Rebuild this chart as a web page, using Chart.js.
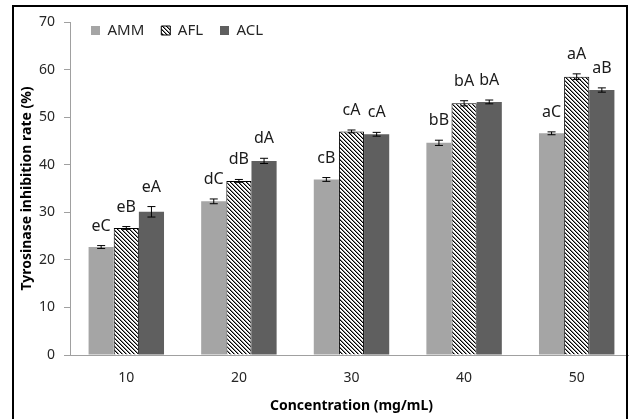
<!DOCTYPE html>
<html>
<head>
<meta charset="utf-8">
<script src="https://cdn.jsdelivr.net/npm/chart.js@4"></script>
<style>
  body { margin: 0; background: #fff; }
  #wrap { position: relative; width: 629px; height: 419px; overflow: hidden; background: #fff; }
  #frame { position: absolute; left: 12px; top: 5px; width: 612px; height: 430px; border: 2px solid #000; pointer-events: none; }
  canvas { position: absolute; left: 0; top: 0; }
</style>
</head>
<body>
<div id="wrap">
  <canvas id="tyrChart" width="640" height="419"></canvas>
  <div id="frame"></div>
</div>
<script>
// Datos
const categories = ['10', '20', '30', '40', '50'];
const seriesNames = ['AMM', 'AFL', 'ACL'];

const ammValues = [22.7, 32.3, 36.9, 44.6, 46.6];
const aflValues = [26.7, 36.6, 47.0, 52.9, 58.5];
const aclValues = [30.1, 40.8, 46.4, 53.2, 55.7];

// Desviaciones (barras de error)
const ammErrors = [0.3, 0.5, 0.4, 0.55, 0.3];
const aflErrors = [0.3, 0.3, 0.3, 0.55, 0.6];
const aclErrors = [1.1, 0.55, 0.4, 0.4, 0.45];

// Letras de significancia
const ammLetters = ['eC', 'dC', 'cB', 'bB', 'aC'];
const aflLetters = ['eB', 'dB', 'cA', 'bA', 'aA'];
const aclLetters = ['eA', 'dA', 'cA', 'bA', 'aB'];

const yTicks = [0, 10, 20, 30, 40, 50, 60, 70];

const FONT = "'Noto Sans', 'DejaVu Sans', sans-serif";

// Patron rayado para AFL
function makeHatch() {
    const c = document.createElement('canvas');
    c.width = 4;
    c.height = 4;
    const g = c.getContext('2d');
    g.fillStyle = '#ffffff';
    g.fillRect(0, 0, 4, 4);
    for (let i = 0; i < 4; i++) {
        g.fillStyle = '#000000';
        g.fillRect(i, i, 1, 1);
        g.fillStyle = '#8a8a8a';
        g.fillRect((i + 1) % 4, i, 1, 1);
    }
    return g.createPattern(c, 'repeat');
}

const errorSets = [ammErrors, aflErrors, aclErrors];
const letterSets = [ammLetters, aflLetters, aclLetters];

// Barras de error y letras encima de cada barra
const errorBarsPlugin = {
    id: 'errorBars',
    afterDatasetsDraw(chart) {
        const ctx = chart.ctx;
        const y = chart.scales.y;
        ctx.save();
        chart.data.datasets.forEach((ds, i) => {
            const meta = chart.getDatasetMeta(i);
            meta.data.forEach((bar, j) => {
                const v = ds.data[j];
                const e = errorSets[i][j];
                const yTop = y.getPixelForValue(v + e);
                const yBot = y.getPixelForValue(v - e);
                ctx.strokeStyle = '#000';
                ctx.lineWidth = 1;
                ctx.beginPath();
                ctx.moveTo(bar.x, yTop);
                ctx.lineTo(bar.x, yBot);
                ctx.moveTo(bar.x - 4, yTop);
                ctx.lineTo(bar.x + 4, yTop);
                ctx.moveTo(bar.x - 4, yBot);
                ctx.lineTo(bar.x + 4, yBot);
                ctx.stroke();

                ctx.fillStyle = '#1a1a1a';
                ctx.font = '16px ' + FONT;
                ctx.textAlign = 'center';
                ctx.textBaseline = 'alphabetic';
                ctx.fillText(letterSets[i][j], bar.x, yTop - 15);
            });
        });
        ctx.restore();
    }
};

// Mover la leyenda dentro del area del grafico
const legendPlacePlugin = {
    id: 'legendPlace',
    afterLayout(chart) {
        const lg = chart.legend;
        if (!lg) return;
        lg.left = 74;
        lg.right = 629;
        lg.top = 6;
        lg.bottom = 50;
        lg.width = lg.right - lg.left;
        lg.height = lg.bottom - lg.top;
    }
};

const ctx = document.getElementById('tyrChart').getContext('2d');
const tyrChart = new Chart(ctx, {
    type: 'bar',
    data: {
        labels: categories,
        datasets: [
            {
                label: seriesNames[0],
                data: ammValues,
                backgroundColor: '#a5a5a5',
                borderWidth: 0
            },
            {
                label: seriesNames[1],
                data: aflValues,
                backgroundColor: makeHatch(),
                borderColor: '#000000',
                borderWidth: 1
            },
            {
                label: seriesNames[2],
                data: aclValues,
                backgroundColor: '#5f5f5f',
                borderWidth: 0
            }
        ]
    },
    options: {
        responsive: false,
        devicePixelRatio: 1,
        animation: false,
        layout: { padding: { left: 0, top: 21, right: 7, bottom: 0 } },
        datasets: {
            bar: { barPercentage: 1.0, categoryPercentage: 0.67 }
        },
        plugins: {
            tooltip: { enabled: false },
            legend: {
                position: 'top',
                align: 'start',
                maxHeight: 1,
                labels: {
                    boxWidth: 9,
                    boxHeight: 9,
                    padding: 17,
                    color: '#262626',
                    font: { family: FONT, size: 15 }
                }
            }
        },
        scales: {
            x: {
                grid: { display: true, drawOnChartArea: false, drawTicks: false },
                border: { display: true, color: '#a0a0a0', width: 1 },
                ticks: {
                    padding: 15,
                    color: '#262626',
                    font: { family: FONT, size: 14 }
                },
                title: {
                    display: true,
                    text: 'Concentration (mg/mL)',
                    color: '#000',
                    font: { family: FONT, size: 14, weight: 'bold' },
                    padding: { top: 0, bottom: 5 }
                },
                afterFit(scale) { scale.height = 64; }
            },
            y: {
                min: 0,
                max: 70,
                afterBuildTicks(scale) {
                    scale.ticks = yTicks.map(v => ({ value: v }));
                },
                grid: {
                    drawOnChartArea: false,
                    drawTicks: true,
                    tickLength: 6,
                    color: '#a0a0a0'
                },
                border: { display: true, color: '#a0a0a0', width: 1 },
                ticks: {
                    padding: 9,
                    color: '#262626',
                    font: { family: FONT, size: 14 }
                },
                title: {
                    display: true,
                    text: 'Tyrosinase inhibition rate (%)',
                    color: '#000',
                    font: { family: FONT, size: 14, weight: 'bold' },
                    padding: { top: 19, bottom: 0 }
                },
                afterFit(scale) { scale.width = 70; }
            }
        }
    },
    plugins: [legendPlacePlugin, errorBarsPlugin]
});
</script>
</body>
</html>
